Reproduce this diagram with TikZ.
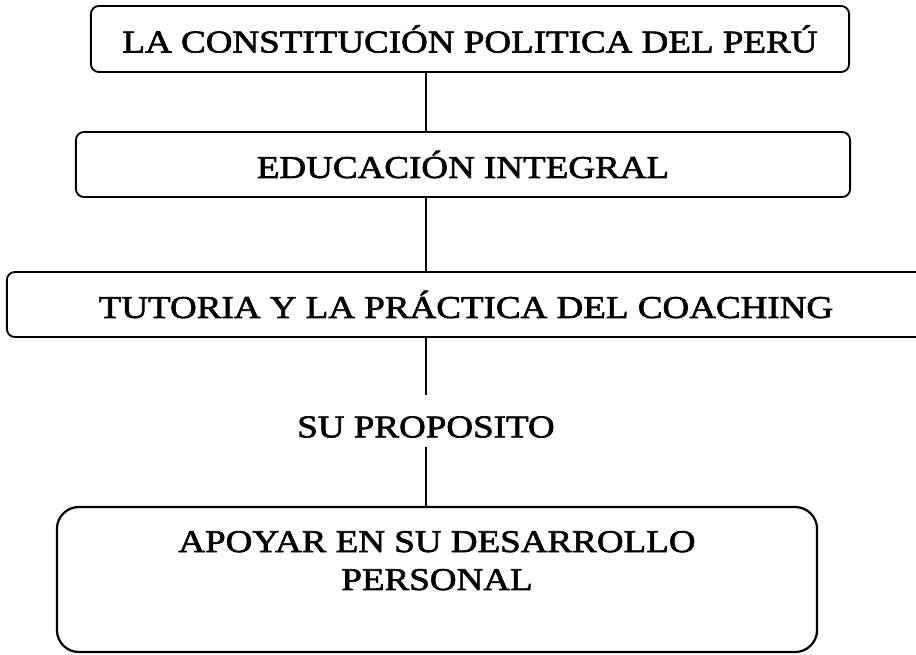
\documentclass[tikz,border=0pt]{standalone}
\usepackage{fontspec}
\setmainfont{Liberation Serif}[FakeStretch=1.17,FakeBold=2]
\begin{document}
\begin{tikzpicture}[x=0.025cm, y=-0.025cm, line width=1.3pt,
  caja/.style={draw, rounded corners=0.2cm, inner sep=0pt, align=center, font=\fontsize{22.5}{27}\selectfont},
  rotulo/.style={inner sep=0pt, font=\fontsize{22.5}{27}\selectfont}]
\useasboundingbox (0,0) rectangle (916,654);
\node[caja, minimum width=18.95cm, minimum height=1.65cm] (cp) at (470,39) {LA CONSTITUCIÓN POLITICA DEL PERÚ};
\node[caja, minimum width=19.35cm, minimum height=1.625cm] (ei) at (463,164.5) {EDUCACIÓN INTEGRAL};
\node[caja, minimum width=22.95cm, minimum height=1.625cm] (tc) at (466,304.5) {TUTORIA Y LA PRÁCTICA DEL COACHING};
\node[rotulo] (sp) at (426,427) {SU PROPOSITO};
\node[caja, line width=1.6pt, rounded corners=0.55cm, minimum width=19cm, minimum height=3.625cm] (ad) at (437,579.5) {APOYAR EN SU DESARROLLO\\PERSONAL\\\mbox{}};
\draw (cp.south -| sp) -- (ei.north -| sp);
\draw (ei.south -| sp) -- (tc.north -| sp);
\draw[shorten >=0.5cm] (tc.south -| sp) -- (sp);
\draw[shorten <=0.2cm] (sp) -- (ad.north -| sp);
\end{tikzpicture}
\end{document}
